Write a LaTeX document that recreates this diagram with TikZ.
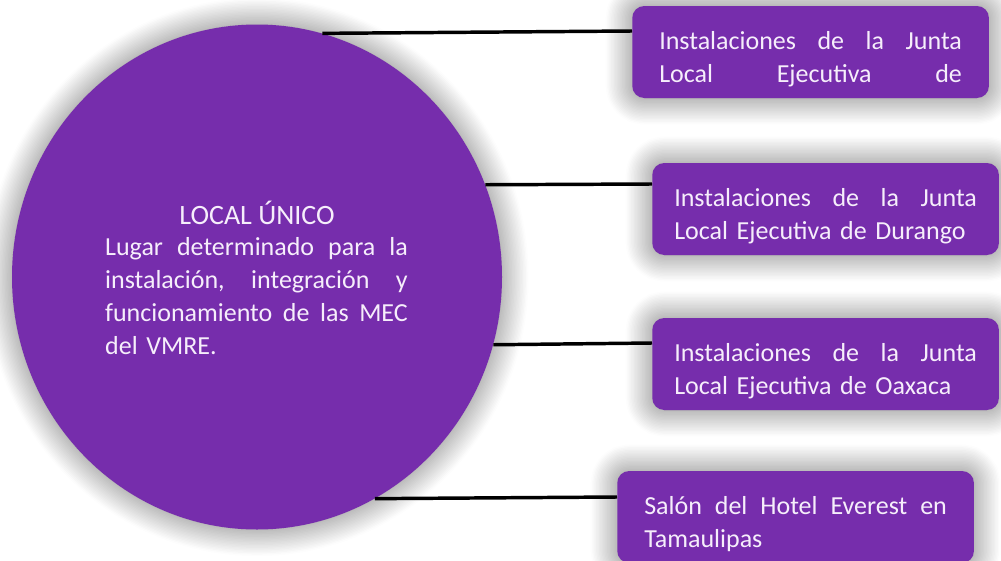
\documentclass[tikz,border=0pt]{standalone}
\usepackage{fontspec}
\setmainfont{Carlito}
\usetikzlibrary{shapes.geometric, shadows.blur, positioning}
\definecolor{morado}{RGB}{118,45,172}
\definecolor{lila}{RGB}{246,238,251}

\begin{document}
\begin{tikzpicture}[x=0.75pt, y=-0.75pt,
    sombra/.style={blur shadow={shadow xshift=0pt, shadow yshift=0pt, shadow blur radius=20pt, shadow blur steps=20, shadow opacity=55}},
    centro/.style={ellipse, fill=morado, sombra, minimum width=367.5pt, minimum height=378.75pt, inner sep=0pt},
    sede/.style={rectangle, rounded corners=9pt, fill=morado, sombra, anchor=west, minimum height=69pt, text width=227pt, inner xsep=20.25pt, align=left, text=lila, font=\fontsize{19.5}{24.75}\selectfont, execute at begin node={\rule{0pt}{24pt}}},
    texto/.style={text=lila, inner sep=0pt},
    enlace/.style={line width=2.6pt, black}]
    \useasboundingbox (0,0) rectangle (1001,561);
    \node[centro] (unico) at (257,277) {};
    \node[sede] (sede1) at (632,52) {Instalaciones\hfill de\hfill la\hfill Junta\\Local\hfill Ejecutiva\hfill de};
    \node[sede, inner xsep=16.5pt] (sede2) at (652,209) {Instalaciones\hfill de\hfill la\hfill Junta\\Local Ejecutiva de Durango};
    \node[sede, inner xsep=16.5pt] (sede3) at (652,364) {Instalaciones\hfill de\hfill la\hfill Junta\\Local Ejecutiva de Oaxaca};
    \node[sede] (sede4) at (617,517) {Salón\hfill del\hfill Hotel\hfill Everest\hfill en\\Tamaulipas};
    \node[texto, font=\fontsize{21}{25}\selectfont] (titulo) at (257,213) {LOCAL ÚNICO};
    \node[texto, text width=227pt, align=left, font=\fontsize{19.5}{24.75}\selectfont] (desc) at (256.5,296)
        {Lugar\hfill determinado\hfill para\hfill la\\instalación,\hfill integración\hfill y\\funcionamiento\hfill de\hfill las\hfill MEC\\del VMRE.};
    \draw[enlace] (unico.75) -- ([yshift=15.75pt]sede1.west);
    \draw[enlace] (unico.22) -- ([yshift=18.75pt]sede2.west);
    \draw[enlace] (unico.-16) -- ([yshift=15.75pt]sede3.west);
    \draw[enlace] (unico.-62) -- ([yshift=15pt]sede4.west);
\end{tikzpicture}
\end{document}
